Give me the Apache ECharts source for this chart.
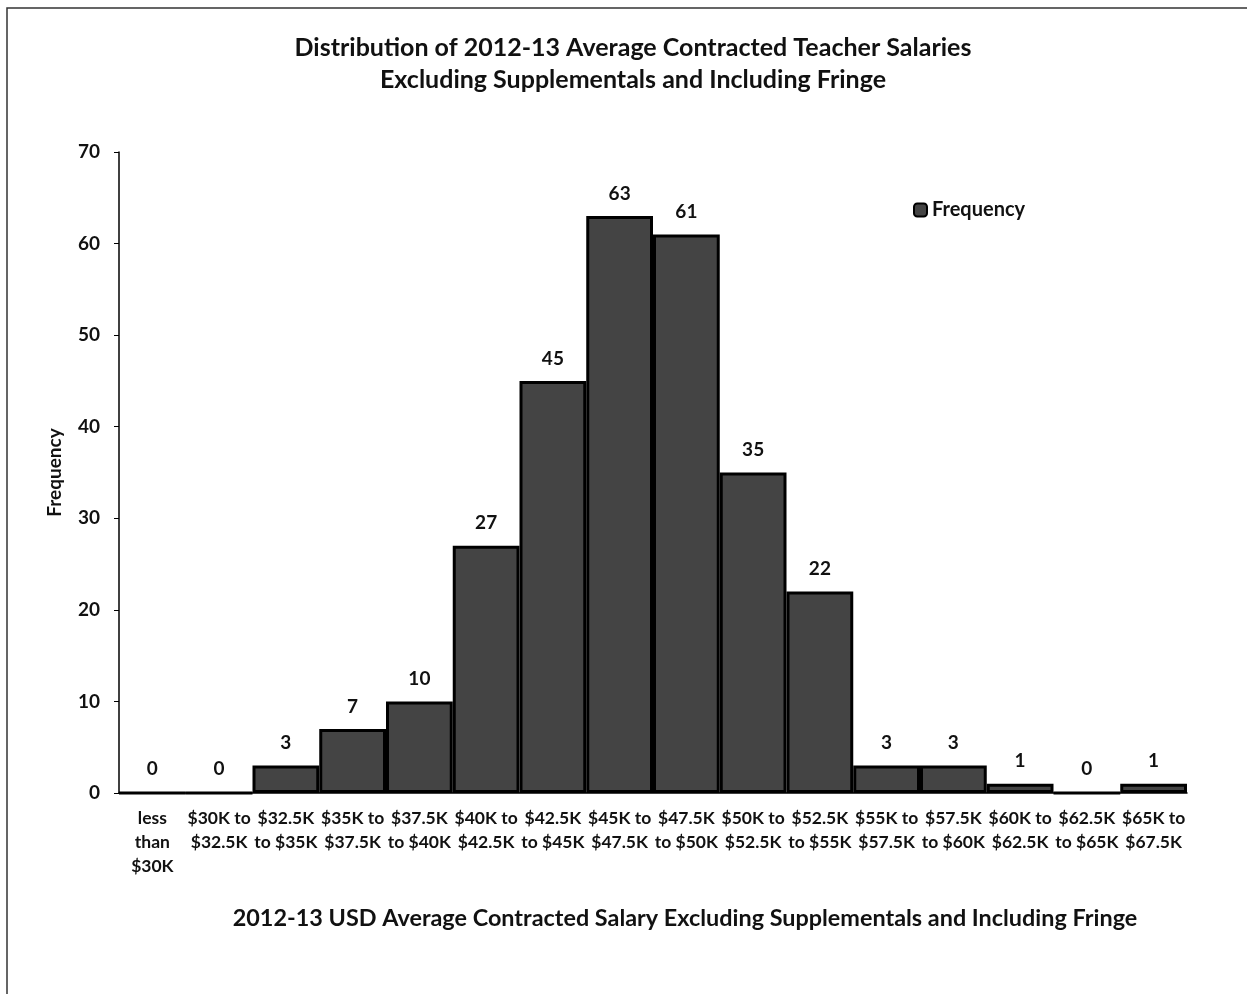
<!DOCTYPE html>
<html><head><meta charset="utf-8">
<script src="https://cdn.jsdelivr.net/npm/echarts@6/dist/echarts.min.js"></script>
<style>html,body{margin:0;padding:0;background:#fff}#c{width:1247px;height:994px}</style>
</head><body><div id="c"></div>
<script>
var categories = ["less\nthan\n$30K","$30K to\n$32.5K","$32.5K\nto $35K","$35K to\n$37.5K","$37.5K\nto $40K","$40K to\n$42.5K","$42.5K\nto $45K","$45K to\n$47.5K","$47.5K\nto $50K","$50K to\n$52.5K","$52.5K\nto $55K","$55K to\n$57.5K","$57.5K\nto $60K","$60K to\n$62.5K","$62.5K\nto $65K","$65K to\n$67.5K"];
var frequency = [0,0,3,7,10,27,45,63,61,35,22,3,3,1,0,1];
var yTicks = [0,10,20,30,40,50,60,70];
var F = "Lato, Roboto, 'Liberation Sans', sans-serif";
var chart = echarts.init(document.getElementById('c'));
chart.setOption({
  backgroundColor:'#fff',
  animation:false,
  title:{text:'Distribution of 2012-13 Average Contracted Teacher Salaries\nExcluding Supplementals and Including Fringe',
    left:628, top:27, textAlign:'center',
    textStyle:{fontFamily:F,fontSize:25,fontWeight:'bold',color:'#111',lineHeight:32}},
  legend:{data:['Frequency'],left:908,top:195,itemWidth:13,itemHeight:13,itemGap:5,
    textStyle:{fontFamily:F,fontSize:20,fontWeight:'bold',color:'#111'}},
  graphic:[{type:'rect',shape:{x:7,y:8,width:1260,height:1010},style:{fill:'none',stroke:'#333',lineWidth:1.5}}],
  grid:{left:119,right:60,top:152,bottom:201},
  xAxis:{type:'category',data:categories,
    name:'2012-13 USD Average Contracted Salary Excluding Supplementals and Including Fringe',
    nameLocation:'middle',nameGap:114,
    nameTextStyle:{fontFamily:F,fontSize:23.4,fontWeight:'bold',color:'#111',padding:[0,0,0,64]},
    axisLine:{lineStyle:{color:'#000',width:1.5}},
    axisTick:{alignWithLabel:false,length:6,lineStyle:{color:'#000'}},
    axisLabel:{interval:0,fontFamily:F,fontSize:17.5,fontWeight:'bold',color:'#111',lineHeight:24,margin:13}},
  yAxis:{type:'value',min:0,max:70,interval:10,
    name:'Frequency',nameLocation:'middle',nameGap:55,
    nameTextStyle:{fontFamily:F,fontSize:19,fontWeight:'bold',color:'#111'},
    axisLine:{show:true,lineStyle:{color:'#000',width:1.5}},
    axisTick:{show:true,length:5,lineStyle:{color:'#000'}},
    splitLine:{show:false},
    axisLabel:{fontFamily:F,fontSize:19,fontWeight:'bold',color:'#111',margin:19,
      formatter:function(v){return yTicks.indexOf(v)>=0?String(v):'';}}},
  series:[{name:'Frequency',type:'bar',data:frequency,barCategoryGap:'0%',
    itemStyle:{color:'#444',borderColor:'#000',borderWidth:3},
    label:{show:true,position:'top',distance:13,fontFamily:F,fontSize:19,fontWeight:'bold',color:'#111'}}]
});
</script></body></html>
